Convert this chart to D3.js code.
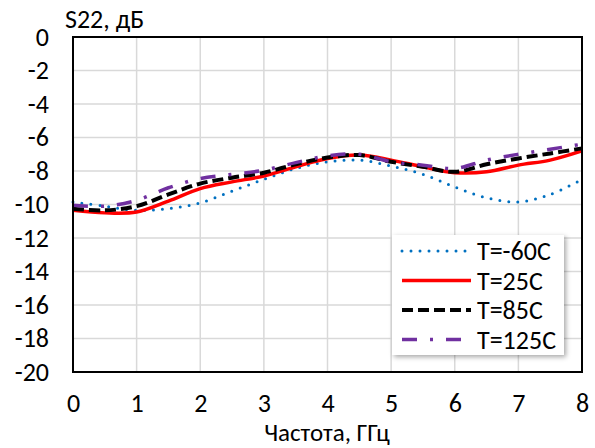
<!DOCTYPE html>
<html>
<head>
<meta charset="utf-8">
<script src="https://cdn.jsdelivr.net/npm/d3@7"></script>
<style>
  body { margin: 0; background: #fff; }
  svg text { font-family: Carlito, Lato, "Noto Sans", sans-serif; fill: #000; }
</style>
</head>
<body>
<svg id="chart" width="595" height="448"></svg>
<script>
// частота, ГГц
let freq = [0, 0.5, 1, 1.5, 2, 2.5, 3, 3.5, 4, 4.5, 5, 5.5, 6, 6.5, 7, 7.5, 8];

// S22, дБ
let t_m60 = [-9.85, -10.1, -10.35, -10.25, -9.9, -9.2, -8.5, -7.85, -7.45, -7.35, -7.7, -8.2, -8.95, -9.6, -9.85, -9.4, -8.5];
let t_25  = [-10.35, -10.5, -10.45, -9.8, -9.05, -8.65, -8.3, -7.75, -7.25, -7.05, -7.35, -7.75, -8.1, -8.05, -7.65, -7.35, -6.8];
let t_85  = [-10.25, -10.35, -10.1, -9.4, -8.75, -8.4, -8.1, -7.6, -7.2, -7.05, -7.45, -7.75, -8.05, -7.6, -7.25, -6.95, -6.65];
let t_125 = [-10.05, -10.1, -9.75, -9.0, -8.45, -8.2, -7.95, -7.5, -7.1, -7.0, -7.45, -7.65, -7.85, -7.35, -7.0, -6.7, -6.4];

let series_names = ['T=-60C', 'T=25C', 'T=85C', 'T=125C'];
let x_ticks = [0, 1, 2, 3, 4, 5, 6, 7, 8];
let y_ticks = [0, -2, -4, -6, -8, -10, -12, -14, -16, -18, -20];

let series_style = [
	{ data: t_m60, color: '#0070C0', width: 3, dash: '0,9', cap: 'round' },
	{ data: t_25, color: '#FF0000', width: 3.5, dash: null, cap: 'butt' },
	{ data: t_85, color: '#000000', width: 4, dash: '11,5', cap: 'butt' },
	{ data: t_125, color: '#7030A0', width: 3.5, dash: '15,13,3,13', cap: 'butt' }
];

let font_size = '26px';

let svg = d3.select('#chart');

let margin = { top: 37, right: 13, bottom: 76, left: 73 };
let width = 595 - margin.left - margin.right;
let height = 448 - margin.top - margin.bottom;

let chart = svg.append('g')
	.attr('transform', 'translate(' + margin.left + ', ' + margin.top + ')');

let x = d3.scaleLinear().domain([0, 8]).range([0, width]);
let y = d3.scaleLinear().domain([-20, 0]).range([height, 0]);

// сетка
chart.append('g')
	.selectAll('line')
	.data(x_ticks)
	.enter()
	.append('line')
	.attr('x1', d => x(d)).attr('x2', d => x(d))
	.attr('y1', 0).attr('y2', height)
	.attr('stroke', '#D9D9D9')
	.attr('stroke-width', 1.5);

chart.append('g')
	.selectAll('line')
	.data(y_ticks)
	.enter()
	.append('line')
	.attr('x1', 0).attr('x2', width)
	.attr('y1', d => y(d)).attr('y2', d => y(d))
	.attr('stroke', '#D9D9D9')
	.attr('stroke-width', 1.5);

// подписи осей
let fmt = d => String(d);  // обычный дефис, как в Excel

let xAxis = d3.axisBottom(x).tickValues(x_ticks).tickFormat(fmt).tickSize(0).tickPadding(22);
let yAxis = d3.axisLeft(y).tickValues(y_ticks).tickFormat(fmt).tickSize(0).tickPadding(24);

chart.append('g')
	.attr('transform', 'translate(0, ' + height + ')')
	.call(xAxis)
	.call(g => g.select('.domain').remove())
	.selectAll('text')
	.style('font-size', font_size)
	.style('font-family', 'Carlito, Lato, "Noto Sans", sans-serif');

chart.append('g')
	.call(yAxis)
	.call(g => g.select('.domain').remove())
	.selectAll('text')
	.style('font-size', font_size)
	.style('font-family', 'Carlito, Lato, "Noto Sans", sans-serif');

// линии
let line = d3.line()
	.x((d, i) => x(freq[i]))
	.y(d => y(d))
	.curve(d3.curveCatmullRom);

series_style.map(function(s) {
	chart.append('path')
		.datum(s.data)
		.attr('fill', 'none')
		.attr('stroke', s.color)
		.attr('stroke-width', s.width)
		.attr('stroke-dasharray', s.dash)
		.attr('stroke-linecap', s.cap)
		.attr('d', line);
});

// рамка
chart.append('rect')
	.attr('x', 0).attr('y', 0)
	.attr('width', width).attr('height', height)
	.attr('fill', 'none')
	.attr('stroke', '#000')
	.attr('stroke-width', 2);

// легенда
let defs = svg.append('defs');
let filter = defs.append('filter').attr('id', 'shadow')
	.attr('x', '-10%').attr('y', '-10%').attr('width', '130%').attr('height', '130%');
filter.append('feDropShadow')
	.attr('dx', 2).attr('dy', 2).attr('stdDeviation', 2.5)
	.attr('flood-color', '#000').attr('flood-opacity', 0.35);

let legend = svg.append('g').attr('transform', 'translate(392, 235)');

legend.append('rect')
	.attr('width', 172).attr('height', 120)
	.attr('fill', '#fff')
	.attr('filter', 'url(#shadow)');

series_style.map(function(s, i) {
	let row_y = 16 + i * 29.5;
	legend.append('line')
		.attr('x1', 10).attr('x2', 79)
		.attr('y1', row_y).attr('y2', row_y)
		.attr('stroke', s.color)
		.attr('stroke-width', s.width)
		.attr('stroke-dasharray', s.dash)
		.attr('stroke-linecap', s.cap);
	legend.append('text')
		.attr('x', 85).attr('y', row_y)
		.attr('dy', '0.35em')
		.style('font-size', font_size)
		.text(series_names[i]);
});

// заголовки
svg.append('text')
	.attr('x', 65).attr('y', 28)
	.style('font-size', font_size)
	.text('S22, дБ');

svg.append('text')
	.attr('x', 327).attr('y', 441)
	.attr('text-anchor', 'middle')
	.style('font-size', '25px')
	.text('Частота, ГГц');
</script>
</body>
</html>
